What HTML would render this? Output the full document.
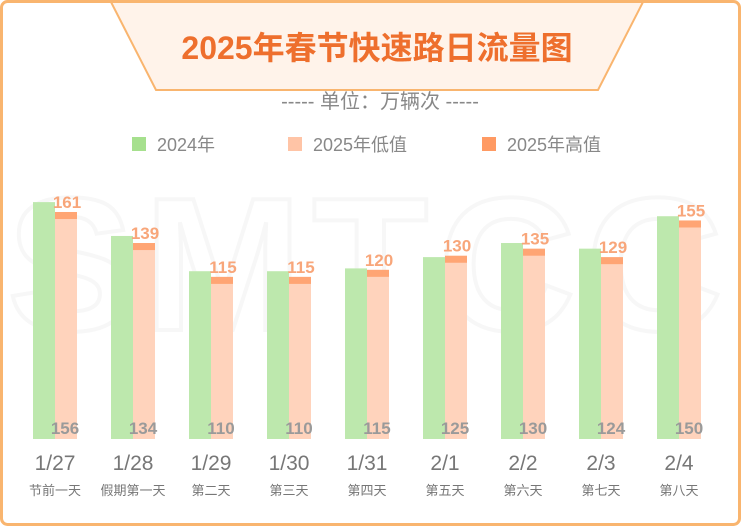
<!DOCTYPE html>
<html><head><meta charset="utf-8"><style>
body{margin:0;width:741px;height:526px;overflow:hidden;background:#fff;font-family:"Liberation Sans","Noto Sans CJK SC",sans-serif;}
</style></head><body>
<svg width="741" height="526" style="position:absolute;left:0;top:0">
<rect x="1.5" y="1.5" width="738" height="523" rx="6" fill="#fff" stroke="#f9b56f" stroke-width="3"/>
<text x="370" y="330" text-anchor="middle" font-size="190" font-weight="bold" fill="none" stroke="#f7f7f7" stroke-width="4" letter-spacing="10">SMTCC</text>
<polygon points="111,2 643,2 598,90 156,90" fill="#fff3ea" stroke="#f9b56f" stroke-width="2"/>
<text x="377" y="59" text-anchor="middle" font-size="32" font-weight="bold" fill="#ee6f2d">2025年春节快速路日流量图</text>
<text x="380" y="108" text-anchor="middle" font-size="20" fill="#888">----- 单位：万辆次 -----</text>
<g>
<rect x="132" y="137" width="14" height="14" fill="#a6e08e"/>
<text x="157" y="151" font-size="18" fill="#888">2024年</text>
<rect x="288" y="137" width="14" height="14" fill="#ffc4a6"/>
<text x="313" y="151" font-size="18" fill="#888">2025年低值</text>
<rect x="482" y="137" width="14" height="14" fill="#ff9a63"/>
<text x="507" y="151" font-size="18" fill="#888">2025年高值</text>
</g>
<g id="bars"></g>
</svg>
<script>
const dates=["1/27","1/28","1/29","1/30","1/31","2/1","2/2","2/3","2/4"];
const dayNames=["节前一天","假期第一天","第二天","第三天","第四天","第五天","第六天","第七天","第八天"];
const v2024=[168,144,119,119,121,129,139,135,158];
const low2025=[156,134,110,110,115,125,130,124,150];
const high2025=[161,139,115,115,120,130,135,129,155];
const NS="http://www.w3.org/2000/svg";
const g=document.getElementById('bars');
const base=439, k=1.41;
const y=v=>base-v*k;
const xg=i=>33+i*78;
function mk(tag,attrs,txt){const e=document.createElementNS(NS,tag);for(const a in attrs)e.setAttribute(a,attrs[a]);if(txt!=null)e.textContent=txt;g.appendChild(e);return e;}
dates.forEach((d,i)=>{
  const x=xg(i);
  let e=mk('rect',{x:x,y:y(v2024[i]),width:22,height:base-y(v2024[i]),fill:'#bde8ad'});
  
  
  e=mk('rect',{x:x+22,y:y(high2025[i]),width:22,height:base-y(high2025[i]),fill:'#ffa574'});
  
  
  e=mk('rect',{x:x+22,y:y(low2025[i]),width:22,height:base-y(low2025[i]),fill:'#ffd3bc'});
  
  
  e=mk('text',{x:x+34,y:y(high2025[i])-4,'text-anchor':'middle','font-size':17,'font-weight':'bold',fill:'#f8a67a'},high2025[i]);
  
  
  e=mk('text',{x:x+32,y:base-5,'text-anchor':'middle','font-size':17,'font-weight':'bold',fill:'#9a9a9a'},low2025[i]);
  
  
  e=mk('text',{x:x+22,y:470,'text-anchor':'middle','font-size':21,fill:'#777'},d);
  
  
  e=mk('text',{x:x+22,y:495,'text-anchor':'middle','font-size':13,fill:'#777'},dayNames[i]);
  
  
});
</script>
</body></html>
